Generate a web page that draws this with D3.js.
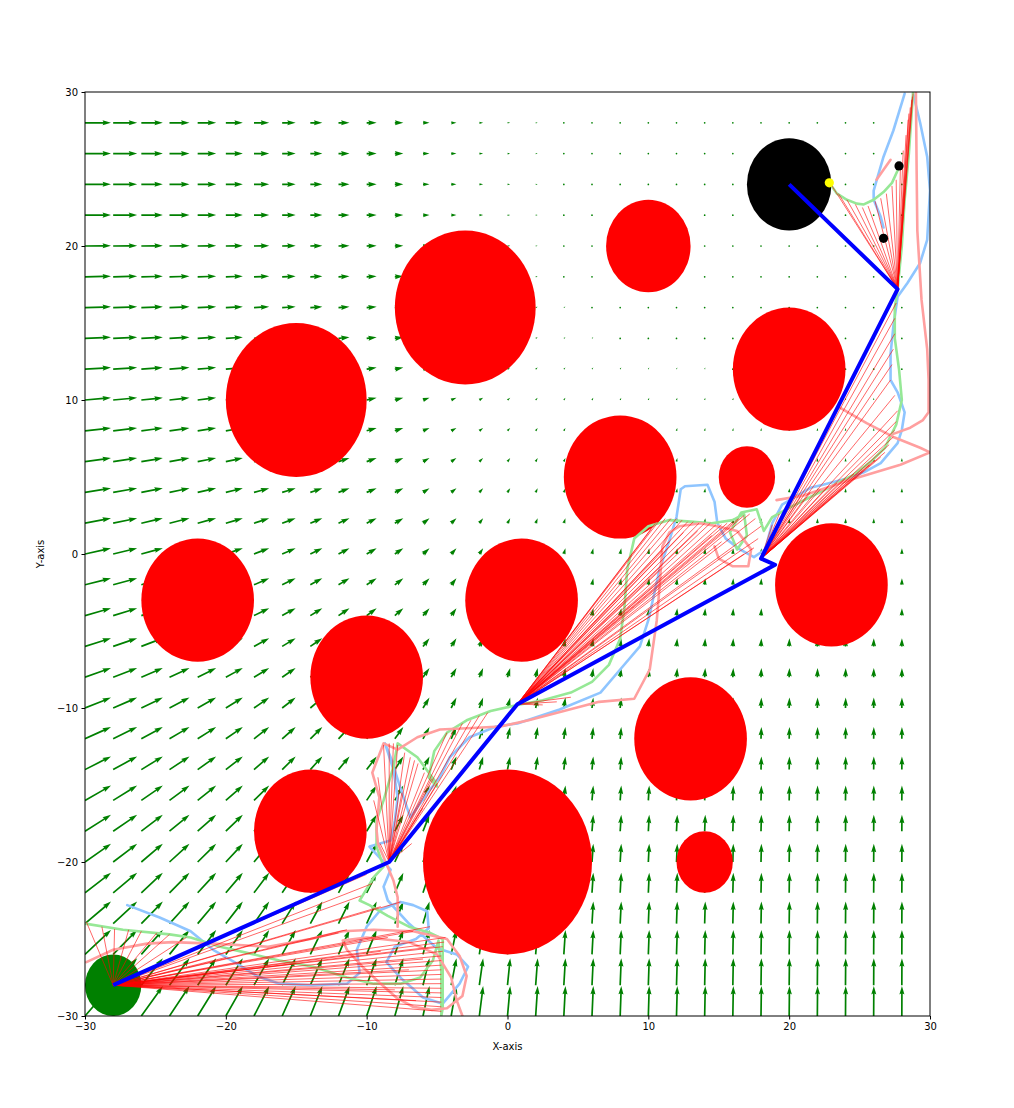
<!DOCTYPE html>
<html><head><meta charset="utf-8">
<script src="https://cdn.jsdelivr.net/npm/d3@7"></script>
<style>body{margin:0;background:#fff} text{font-family:"DejaVu Sans",sans-serif}</style>
</head><body>
<svg id="c" width="1014" height="1108"></svg>
<script>
// ---------------- data ----------------
const gridX = [-30,-28,-26,-24,-22,-20,-18,-16,-14,-12,-10,-8,-6,-4,-2,0,2,4,6,8,10,12,14,16,18,20,22,24,26,28];
const gridY = [-30,-28,-26,-24,-22,-20,-18,-16,-14,-12,-10,-8,-6,-4,-2,0,2,4,6,8,10,12,14,16,18,20,22,24,26,28];
// field x-component per column, y-component per row
const fieldU = [26,24,21.5,20,18.5,17,15.2,13.5,12,11,10,8.5,6.5,5.3,3.8,2.7,2.0,1.6,1.3,1.1,0.9,0.8,0.6,0.5,0.4,0.3,0.25,0.2,0.15,0.1];
const fieldV = [30,27,24.5,22,20,18.2,16.4,14.8,13.2,11.8,10.4,9.2,8.2,7.4,6.6,5.8,5,4.2,3.5,2.8,2.2,1.6,1.2,0.8,0.5,0.3,0.15,0.1,0,0];

const obsX = [-3,-15,10,20,8,17,23,1,-22,-10,13,-14,0,14];
const obsY = [16,10,20,12,5,5,-2,-3,-3,-8,-12,-18,-20,-20];
const obsR = [5,5,3,4,4,2,4,4,4,4,4,4,6,2];
const goal = [20,24,3];
const start = [-28,-28,2];

const pathX = [-28,-8.4,0.7,19,18,27.7,20];
const pathY = [-28,-20,-9.75,-0.7,-0.3,17.2,24];

const yellowPt = [22.85,24.1];
const blackPts = [[27.8,25.2],[26.7,20.5]];

// fans of rays: origin = path vertex index, ends = endpoints
const fan0 = [[-29.9,-23.9],[-28.8,-24.2],[-27.9,-24.35],[-26.9,-24.4],[-26,-24.5],[-24.9,-24.6],[-24,-24.7],[-22.8,-24.9],
 [-10,-20.8],[-9.6,-21.4],[-10.4,-22.2],[-9,-22.9],[-7.6,-22.6],[-11.4,-24.4],[-6.7,-24.5],[-5.5,-24.2],[-4.4,-24.9],
 [-4.5,-25.2],[-4.6,-25.5],[-4.6,-25.8],[-4.7,-26.1],[-4.7,-26.4],[-4.7,-26.7],[-4.7,-27],[-4.7,-27.3],[-4.7,-27.6],[-4.7,-27.9],
 [-4.7,-28.2],[-4.7,-28.5],[-4.7,-28.8],[-4.7,-29.1],[-4.7,-29.4],[-4.7,-29.7],[-6,-26.3],[-7,-27],[-8,-28.3],[-6.5,-29],
 [-9,-25.8],[-12,-24.6],[-15,-26.6],[-20,-26.2],[-8.5,-24.9],[-5.2,-25.5]];
const fan1 = [[-8.8,-12.4],[-8.4,-12.3],[-8.1,-12.3],[-7.8,-12.4],[-7.3,-12.9],[-6.9,-13.2],[-6.6,-13.4],[-6.35,-13.6],[-5.9,-14.2],
 [-5.4,-14.6],[-5,-14.9],[-4.3,-11.6],[-3.8,-11.4],[-3.2,-11],[-2.6,-10.8],[-2,-10.5],[-1.4,-10.3],[-9.05,-18.8],[-6.8,-18.8],
 [-9.5,-16],[-9.2,-14.5],[-7.5,-15.5],[-6,-16.5]];
const fan2 = [[10.2,1.6],[10.5,2],[10.8,2.2],[11.2,2.3],[11.6,2.3],[12,2.3],[12.4,2.2],[12.8,2.1],[13.2,2.1],[13.6,2],[14,2],
 [14.4,2],[14.8,1.9],[15.2,1.9],[15.6,2],[16,2.1],[16.4,2.3],[16.8,2.5],[17.2,2.6],[17.6,2.3],[18,1.8],[17.8,1],[17.5,0.4],
 [16.8,0],[16,0.3],[15.2,0.8],[14.5,1.2],[13.5,1.5],[12.5,1.4],[11.5,0.8],[11,0.2],[10.8,-1],[3.5,-9.6],[4.5,-9.3],[2.5,-9.8]];
const fan3 = [[27.7,17.2],[27.6,16.3],[27.5,15.3],[27.5,14.3],[27.4,13.3],[27.3,12.3],[27.2,11.3],[27.5,10.3],[27.7,9.3],
 [27.6,8.6],[27.5,8.05],[27.4,7.6],[27.1,7.1],[26.8,6.6],[26.5,6.3],[26.1,6.1],[25.7,5.8],[25.2,5.5],[24.6,5.2],[24,4.9],
 [23.4,4.6],[22.8,4.4],[22.2,4.2],[21.5,4],[20.8,3.7],[20,3.2],[19.3,2.6],[18.8,1.9]];
const fan4 = [[22.9,24.1],[23.5,23.4],[24.1,23],[24.7,22.7],[25.2,22.5],[25.6,22.6],[26.1,22.9],[26.5,23.1],[26.9,23.4],
 [27.3,23.9],[27.6,24.3],[27.9,25.2],[28.1,26.2],[28.3,27.2],[28.45,28.2],[28.6,29],[28.7,29.5],[28.8,29.9],[28.75,29.7],[28.5,28.6]];
const fanOrigin = [0,1,2,4,5];
const fans = [fan0,fan1,fan2,fan3,fan4];

// light trajectories
const greenTraj = [
 [[-30,-24],[-27.3,-24.4],[-24,-24.7],[-22.5,-24.9],[-20.4,-25.5],[-18.5,-25.9],[-16.2,-26.4],[-13.8,-26.8],[-11.4,-27.5],
  [-9.5,-27.9],[-7.6,-27.9],[-6.2,-27.5],[-5.3,-26.4],[-4.9,-25.1],[-4.7,-27],[-4.7,-30],[-4.6,-29.5],[-4.6,-25],[-5.5,-24.6],
  [-7,-24.2],[-8.5,-23.5],[-9.8,-22.8],[-10.5,-22.5],[-9.5,-21],[-8.8,-20.3],[-9.3,-19],[-9.3,-17.3],[-8.8,-16],[-8.1,-13.8],
  [-7.8,-12.3],[-6.4,-13.2],[-5.1,-14.8],[-5,-15.1],[-5.6,-14.5],[-5.2,-12.8],[-4.3,-11.6],[-2.9,-10.8],[-1.2,-10.2],[0.7,-9.8],
  [2.5,-9.5],[4.5,-9],[6,-8.3],[7.2,-7.2],[8,-5.5],[8.3,-3.5],[8.5,-1],[9,1],[10,1.8],[11.5,2.2],[13,2.1],[14.5,2],[16,2.2],
  [16.8,2.6],[17,1.2],[16.3,0.3],[15.8,1.4],[16.6,2.7],[17.7,2.9],[18.2,1.5],[18.8,2.4],[20,3],[21.5,3.7],[23,4.4],[24.5,5.1],
  [25.8,6],[26.8,6.9],[27.6,8.4],[28,10],[27.8,12],[27.5,14],[27.5,16],[27.7,17.2],[28,20],[28.2,23],[28.5,26],[28.8,30]],
 [[22.85,24.1],[23.4,23.4],[24.1,23],[24.8,22.75],[25.3,22.7],[26,23],[26.7,23.5],[27.3,24.1],[27.7,24.9]]
];
const blueTraj = [
 [[-27,-22.8],[-24.7,-23.6],[-22.5,-24.5],[-20.9,-25.7],[-19.2,-26.6],[-17.8,-27.4],[-16.2,-27.9],[-13.8,-28],[-11.4,-27.9],
  [-10.5,-27.2],[-10.7,-25.7],[-10,-24.2],[-9,-23.1],[-7.6,-22.6],[-6.7,-22.8],[-5.7,-23.2],[-5.6,-24.3],[-6.5,-25],[-8,-25.5],
  [-8.6,-26.5],[-7.5,-27.6],[-6,-28.8],[-4.6,-29.2],[-3.4,-27.9],[-2.8,-26.8],[-3.6,-26],[-5,-25.6],[-7,-24],[-8.5,-22.5],
  [-8.8,-21.6],[-8.3,-20.5],[-9.8,-19],[-8.3,-18.6],[-8,-17.3],[-7.8,-15.8],[-8.1,-14],[-8.7,-12.3],[-8.3,-13.2],[-7.6,-15.2],
  [-6.9,-17.1],[-5.5,-15.3],[-4.8,-14.5],[-4.1,-13.2],[-2.7,-11.9],[-0.8,-11.2],[0.7,-11],[3.7,-10.1],[6.6,-9],[8,-7.5],
  [9.4,-6],[10,-4.3],[10.8,-1],[11.5,0.9],[12,2.4],[12.3,4.2],[12.6,4.4],[14.2,4.5],[14.7,3.4],[14.9,2],[15.5,1],[16.5,0.3],
  [17.5,-0.2],[18.3,0.3],[18.8,2],[19.5,3.2],[21.5,4.3],[22.4,4.5],[24.1,4.9],[25.3,5.3],[26.5,5.9],[27.7,7.2],[28,8.05],
  [28.2,9.2],[27.7,10.5],[27.2,11.3],[27.2,13],[27.4,14.8],[27.7,16.7],[28.4,17.6],[29.3,18.9],[29.8,20.4],[30,23.6],
  [29.8,25.8],[29.3,28],[28.8,29.9]],
 [[28.2,29.9],[27.4,27.5],[26.7,25.8],[26,23.6],[26,23],[26.5,21.9],[26.7,21.2]]
];
const pinkTraj = [
 [[-29.9,-26.5],[-28,-25.7],[-25.6,-25.3],[-23.8,-25.2],[-20.9,-25.3],[-17,-25.5],[-14,-25],[-11.7,-24.5],[-9.5,-24.4],
  [-6.7,-24.5],[-4.3,-25],[-3.4,-26.1],[-2.9,-27.4],[-3.2,-28.7],[-4.3,-29.5],[-5.4,-29.6],[-6.7,-29.4],[-7.9,-28.8],
  [-9,-27.9],[-10.3,-26.8],[-11.4,-25.7],[-11.7,-25.1],[-10,-24.9],[-7,-25.2],[-5,-26],[-4,-27.5],[-3.6,-29],[-3.2,-30]],
 [[-7.8,-24.2],[-7.8,-22.3],[-8.1,-21.2],[-9.2,-18.8],[-9.3,-17.9],[-9.1,-15.8],[-9.6,-14.2],[-8.8,-12.3],[-7.8,-12.7],
  [-6.4,-11.9],[-4.8,-11.4],[-2.5,-11.3],[-0.5,-11.2],[1.5,-10.8],[4,-10.2],[6.5,-9.6],[9,-9.4],[10.1,-7.5],[10.6,-4.3],
  [10.8,-2.1],[11,0.5],[11.5,1.4],[12.2,1.8],[13.7,2],[14.9,1.8],[16.3,1.5],[17.3,0.3],[17.1,-0.8],[16,-0.8],[15,-0.3],
  [14.7,0.5]],
 [[19.1,3.5],[21,3.8],[24.3,4.8],[27.9,5.8],[30,6.6]],
 [[23.6,9.5],[25.5,8.5],[27.4,7.6],[29.3,6.9],[30,6.6]],
 [[29,30],[29.05,25],[29.1,21],[29.4,16.5],[29.8,13.3],[29.9,11.3],[29.9,9.2],[29.5,8.7],[28.6,8.2],[27.4,7.8]],
 [[26.2,24.3],[27.2,25.6]]
];

const xTicks = [-30,-20,-10,0,10,20,30];
const yTicks = [-30,-20,-10,0,10,20,30];

// ---------------- drawing ----------------
const svg = d3.select("#c");
const L = 85, R = 930, T = 92, B = 1016;
const x = d3.scaleLinear().domain([-30,30]).range([L,R]);
const y = d3.scaleLinear().domain([-30,30]).range([B,T]);
const arrowLen = d3.scaleLinear().domain([0,1]).range([0,1]); // field unit -> px

svg.append("defs").append("clipPath").attr("id","clip")
  .append("rect").attr("x",L).attr("y",T).attr("width",R-L).attr("height",B-T);
const g = svg.append("g").attr("clip-path","url(#clip)");

// quiver
const w = 1.69;
function arrowPts(len){
  const Lw = Math.max(len/w,5);
  let p = [[0,-0.5],[Lw-4.5,-0.5],[Lw-5,-1.5],[Lw,0],[Lw-5,1.5],[Lw-4.5,0.5],[0,0.5]].map(d=>[d[0]*w,d[1]*w]);
  if (len < 5*w){ const s = len/(5*w); p = p.map(d=>[d[0]*s,d[1]*s]); }
  return p;
}
const qg = g.append("g");
gridX.forEach((gx,i)=>{
  gridY.forEach((gy,j)=>{
    const u = arrowLen(fieldU[i]), v = arrowLen(fieldV[j]);
    const len = Math.hypot(u,v);
    const px = x(gx), py = y(gy);
    if (len < w){
      qg.append("circle").attr("cx",px).attr("cy",py).attr("r",w/2).attr("fill","#008000");
    } else {
      const ang = Math.atan2(-v,u)*180/Math.PI;
      qg.append("polygon").attr("points",arrowPts(len).map(d=>d.join(",")).join(" "))
        .attr("transform",`translate(${px},${py}) rotate(${ang})`).attr("fill","#008000");
    }
  });
});

// obstacles
function ell(cx,cy,r,fill){
  g.append("ellipse").attr("cx",x(cx)).attr("cy",y(cy))
   .attr("rx",x(r)-x(0)).attr("ry",y(0)-y(r)).attr("fill",fill);
}
obsX.forEach((ox,i)=>ell(ox,obsY[i],obsR[i],"#ff0000"));
ell(goal[0],goal[1],goal[2],"#000000");
ell(start[0],start[1],start[2],"#008000");

// light trajectories
const line = d3.line().x(d=>x(d[0])).y(d=>y(d[1]));
const trajStyle = [[blueTraj,"#8fc5ff"],[greenTraj,"#96e896"],[pinkTraj,"#ff9f9f"]];
trajStyle.forEach(([set,col])=>{
  set.forEach(seg=>{
    g.append("path").attr("d",line(seg)).attr("fill","none").attr("stroke",col)
     .attr("stroke-width",2.6).attr("stroke-linejoin","round").attr("stroke-linecap","round");
  });
});

// rays
fans.forEach((ends,k)=>{
  const oi = fanOrigin[k];
  const ox = pathX[oi], oy = pathY[oi];
  ends.forEach(e=>{
    g.append("line").attr("x1",x(ox)).attr("y1",y(oy)).attr("x2",x(e[0])).attr("y2",y(e[1]))
     .attr("stroke","#ff0000").attr("stroke-width",0.6);
  });
});

// main path
g.append("path").attr("d",line(pathX.map((px,i)=>[px,pathY[i]]))).attr("fill","none")
 .attr("stroke","#0000ff").attr("stroke-width",4).attr("stroke-linejoin","round");

// markers
g.append("circle").attr("cx",x(yellowPt[0])).attr("cy",y(yellowPt[1])).attr("r",4.6).attr("fill","#ffff00");
blackPts.forEach(p=>g.append("circle").attr("cx",x(p[0])).attr("cy",y(p[1])).attr("r",4.6).attr("fill","#000"));

// frame
svg.append("rect").attr("x",L).attr("y",T).attr("width",R-L).attr("height",B-T)
  .attr("fill","none").attr("stroke","#000").attr("stroke-width",1);

// axes
const fmt = d => d<0 ? "\u2212"+Math.abs(d) : String(d);
const xa = svg.append("g").attr("transform",`translate(0,${B})`)
  .call(d3.axisBottom(x).tickValues(xTicks).tickSize(3.5).tickPadding(3.5).tickFormat(fmt).tickSizeOuter(0));
const ya = svg.append("g").attr("transform",`translate(${L},0)`)
  .call(d3.axisLeft(y).tickValues(yTicks).tickSize(3.5).tickPadding(3.5).tickFormat(fmt).tickSizeOuter(0));
[xa,ya].forEach(a=>{
  a.select(".domain").remove();
  a.selectAll("text").attr("font-family","DejaVu Sans").attr("font-size",10).attr("fill","#000");
  a.selectAll("line").attr("stroke","#000");
});
svg.append("text").attr("x",(L+R)/2).attr("y",1050).attr("text-anchor","middle")
  .attr("font-size",10).text("X-axis");
svg.append("text").attr("transform",`translate(44,${(T+B)/2}) rotate(-90)`).attr("text-anchor","middle")
  .attr("font-size",10).text("Y-axis");
</script>
</body></html>
